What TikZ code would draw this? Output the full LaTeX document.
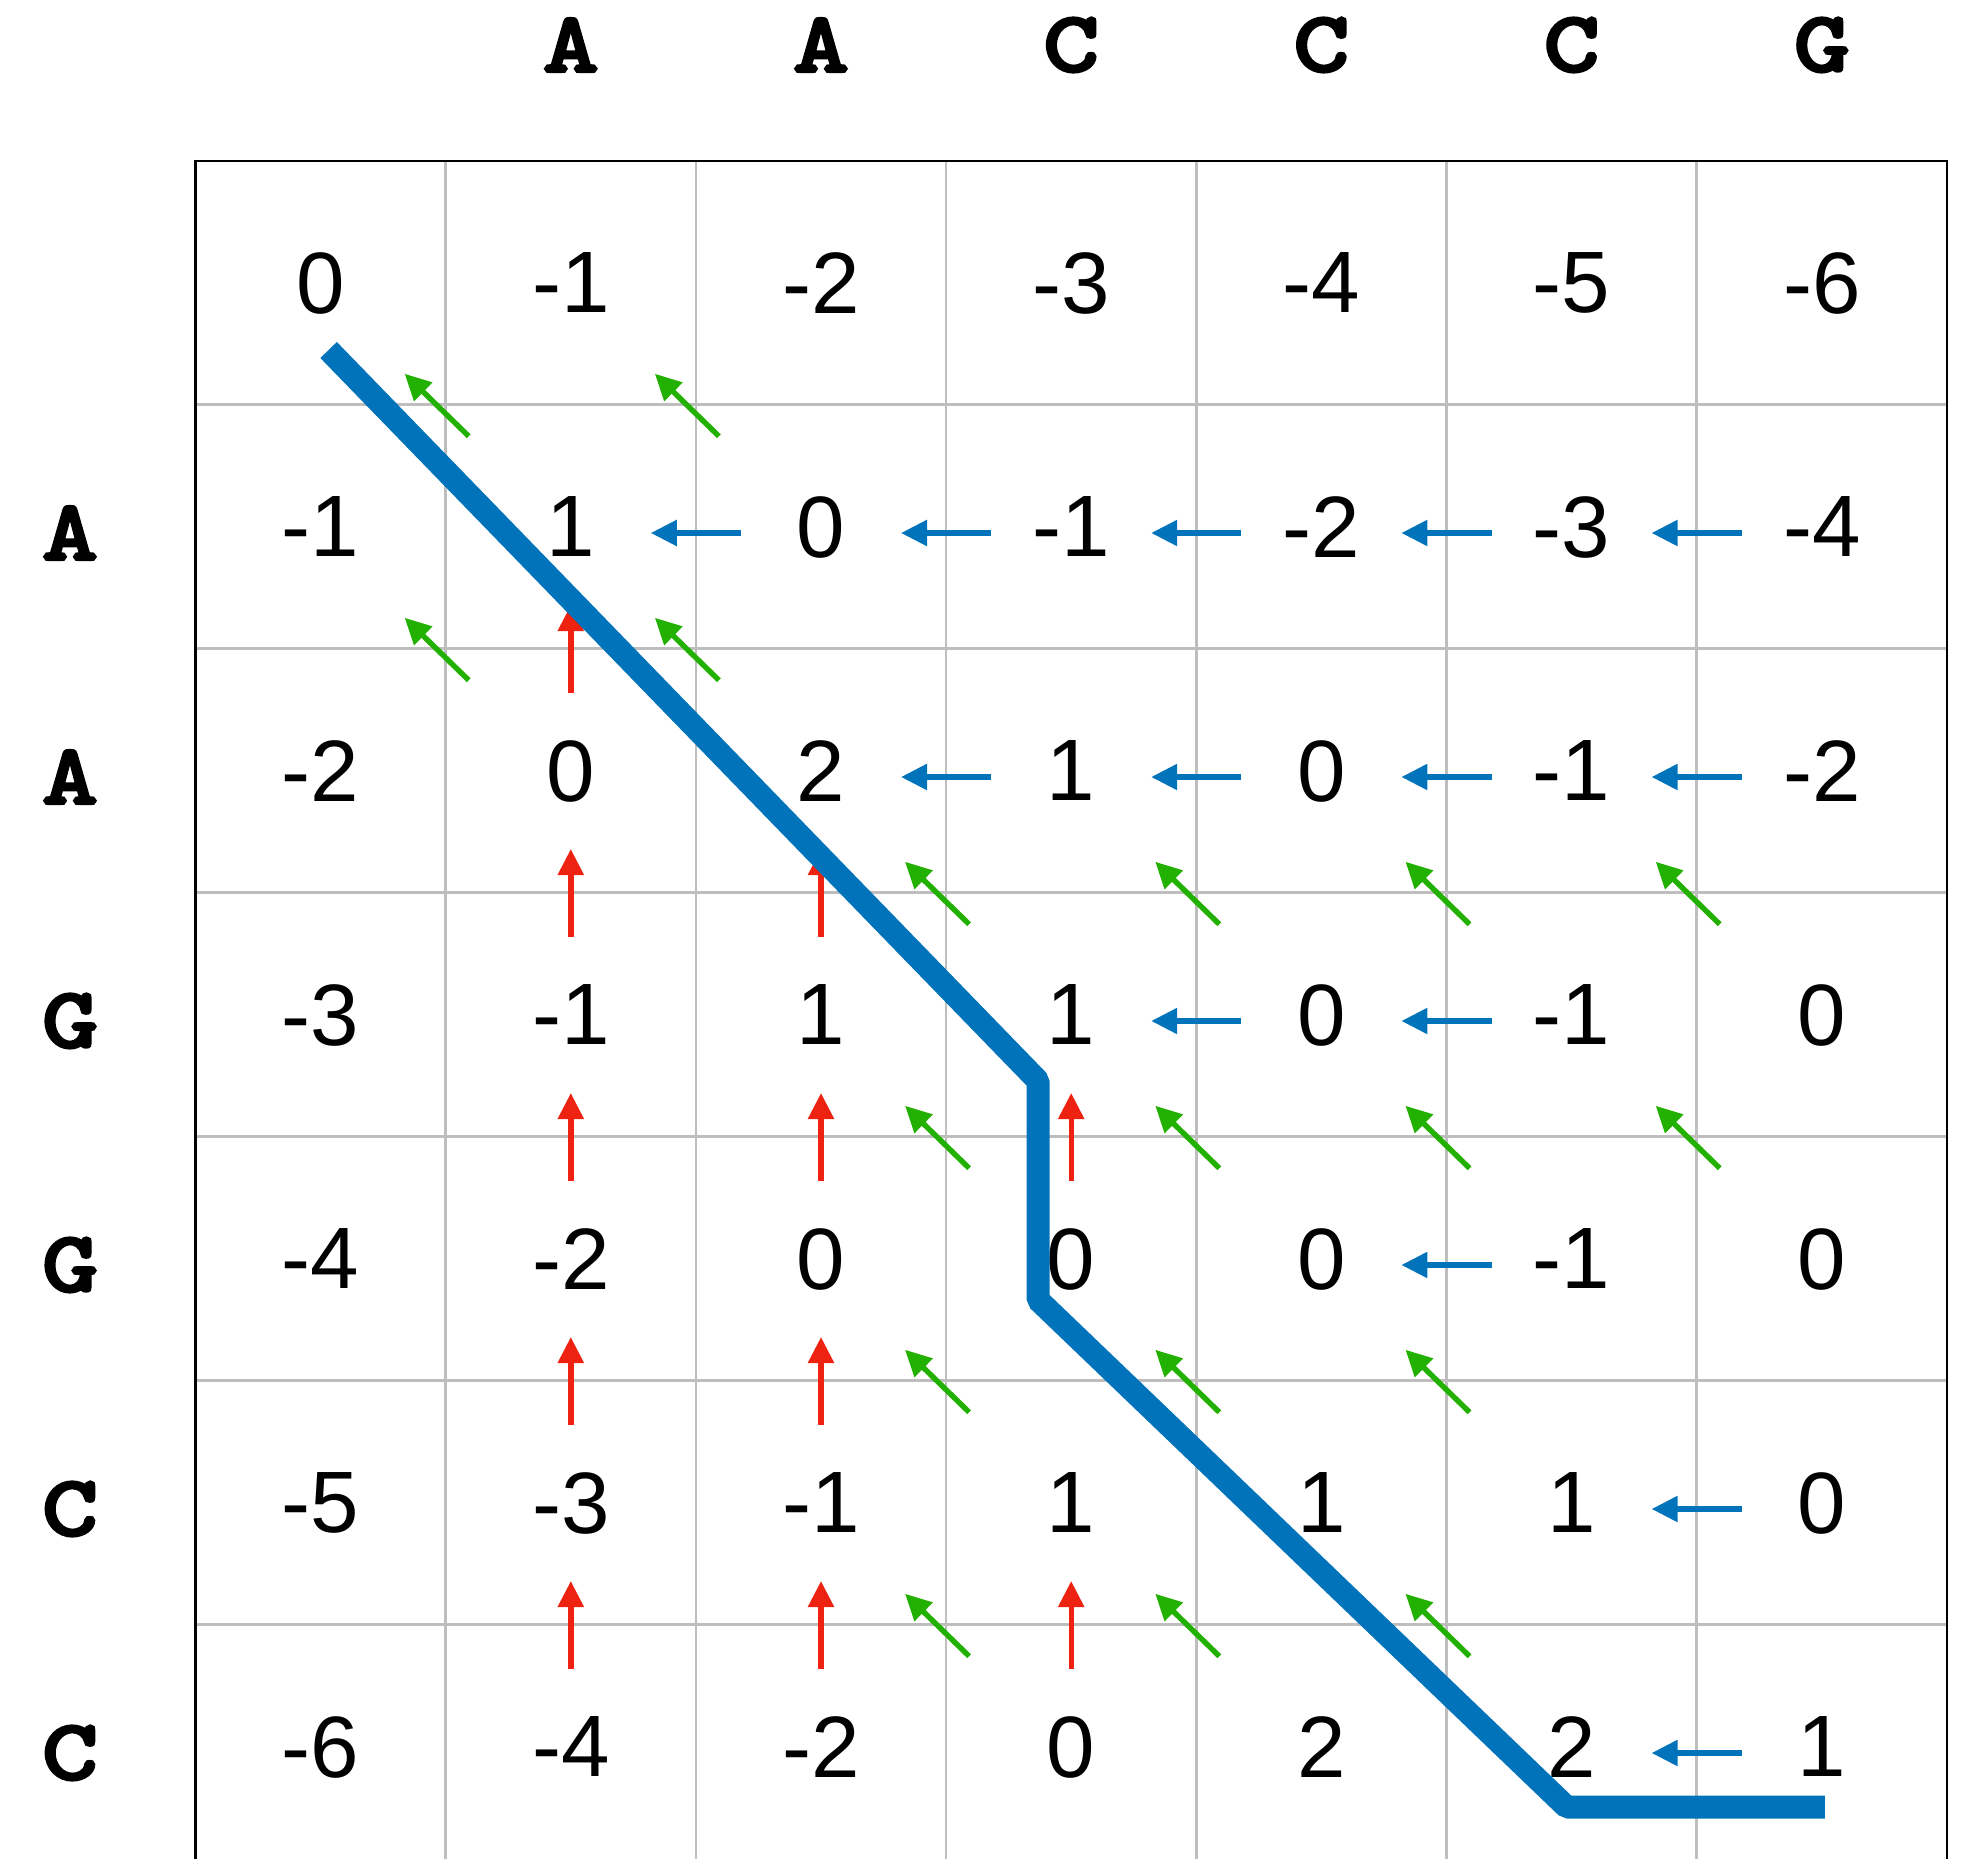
\documentclass[tikz,border=0pt]{standalone}
\usepackage{fontspec}
\setmainfont{Liberation Sans}
\newfontfamily\seqfont[FakeBold=4.5,FakeStretch=1.25]{lmmono10-regular.otf}
\usepackage{tikz}
\usetikzlibrary{arrows.meta,calc}

\definecolor{trblue}{RGB}{0,115,187}
\definecolor{upred}{RGB}{238,34,17}
\definecolor{diaggreen}{RGB}{34,177,0}
\definecolor{gridgray}{RGB}{190,190,190}

\tikzset{
  val/.style={inner sep=0pt, font=\fontsize{24.8}{30}\selectfont},
  seq/.style={inner sep=0pt, font=\seqfont\fontsize{24}{28}\selectfont},
  arrowline/.style={-{Triangle[length=0.26cm,width=0.25cm]}, line width=0.054cm},
  uparrow/.style={arrowline, draw=upred, shorten <=0.78cm, shorten >=0.78cm},
  leftarrow/.style={arrowline, draw=trblue, shorten <=0.8cm, shorten >=0.8cm},
  diagarrow/.style={arrowline, draw=diaggreen, shorten <=1.3cm, shorten >=1.3cm},
  trace/.style={draw=trblue, line width=0.23cm, line join=bevel}
}

\begin{document}
\begin{tikzpicture}
    \useasboundingbox (0,0) rectangle (19.73,-18.59);

    % Grid
    \foreach \k in {1,...,6} {
        \draw[gridgray, line width=0.025cm] ({1.955+2.502*\k},-1.607) -- ({1.955+2.502*\k},-18.59);
        \draw[gridgray, line width=0.025cm] (1.955,{-1.607-2.44*\k}) -- (19.469,{-1.607-2.44*\k});
    }
    \draw[line width=0.022cm] (1.955,-18.59) -- (1.955,-1.607) -- (19.469,-1.607) -- (19.469,-18.59);

    % Sequences
    \foreach \ch [count=\c] in {A,A,C,C,C,G}
        \node[seq] (top\c) at ({3.206+2.502*\c},-0.45) {\ch};
    \foreach \ch [count=\r] in {A,A,G,G,C,C}
        \node[seq] (left\r) at (0.70,{-2.89-2.44*\r}) {\ch};

    % Scores
    \foreach \row [count=\r from 0] in {{0,-1,-2,-3,-4,-5,-6},{-1,1,0,-1,-2,-3,-4},{-2,0,2,1,0,-1,-2},{-3,-1,1,1,0,-1,0},{-4,-2,0,0,0,-1,0},{-5,-3,-1,1,1,1,0},{-6,-4,-2,0,2,2,1}}
        \foreach \s [count=\c from 0] in \row
            \node[val] (v\r\c) at ({3.206+2.502*\c},{-2.83-2.44*\r}) {\s};

    % Up arrows
    \foreach \r/\c in {2/1, 3/1, 3/2, 4/1, 4/2, 4/3, 5/1, 5/2, 6/1, 6/2, 6/3} {
        \pgfmathtruncatemacro{\p}{\r-1}
        \draw[uparrow] (v\r\c.center) -- (v\p\c.center);
    }

    % Left arrows
    \foreach \r/\c in {1/2, 1/3, 1/4, 1/5, 1/6, 2/3, 2/4, 2/5, 2/6, 3/4, 3/5, 4/5, 5/6, 6/6} {
        \pgfmathtruncatemacro{\q}{\c-1}
        \draw[leftarrow] ([yshift=-0.06cm]v\r\c.center) -- ([yshift=-0.06cm]v\r\q.center);
    }

    % Diagonal arrows
    \foreach \r/\c in {1/1, 1/2, 2/1, 2/2, 3/3, 3/4, 3/5, 3/6, 4/3, 4/4, 4/5, 4/6, 5/3, 5/4, 5/5, 6/3, 6/4, 6/5} {
        \pgfmathtruncatemacro{\p}{\r-1}
        \pgfmathtruncatemacro{\q}{\c-1}
        \draw[diagarrow] ([xshift=-0.09cm]v\r\c.center) -- ([xshift=-0.09cm]v\p\q.center);
    }

    % Traceback
    \draw[trace] ([shift={(0.08,-0.67)}]v00.center) -- ([shift={(-0.33,-0.66)}]v33.center)
        -- ([shift={(-0.33,-0.41)}]v43.center) -- ([shift={(-0.05,-0.60)}]v65.center)
        -- ([shift={(0.03,-0.60)}]v66.center);
\end{tikzpicture}
\end{document}
